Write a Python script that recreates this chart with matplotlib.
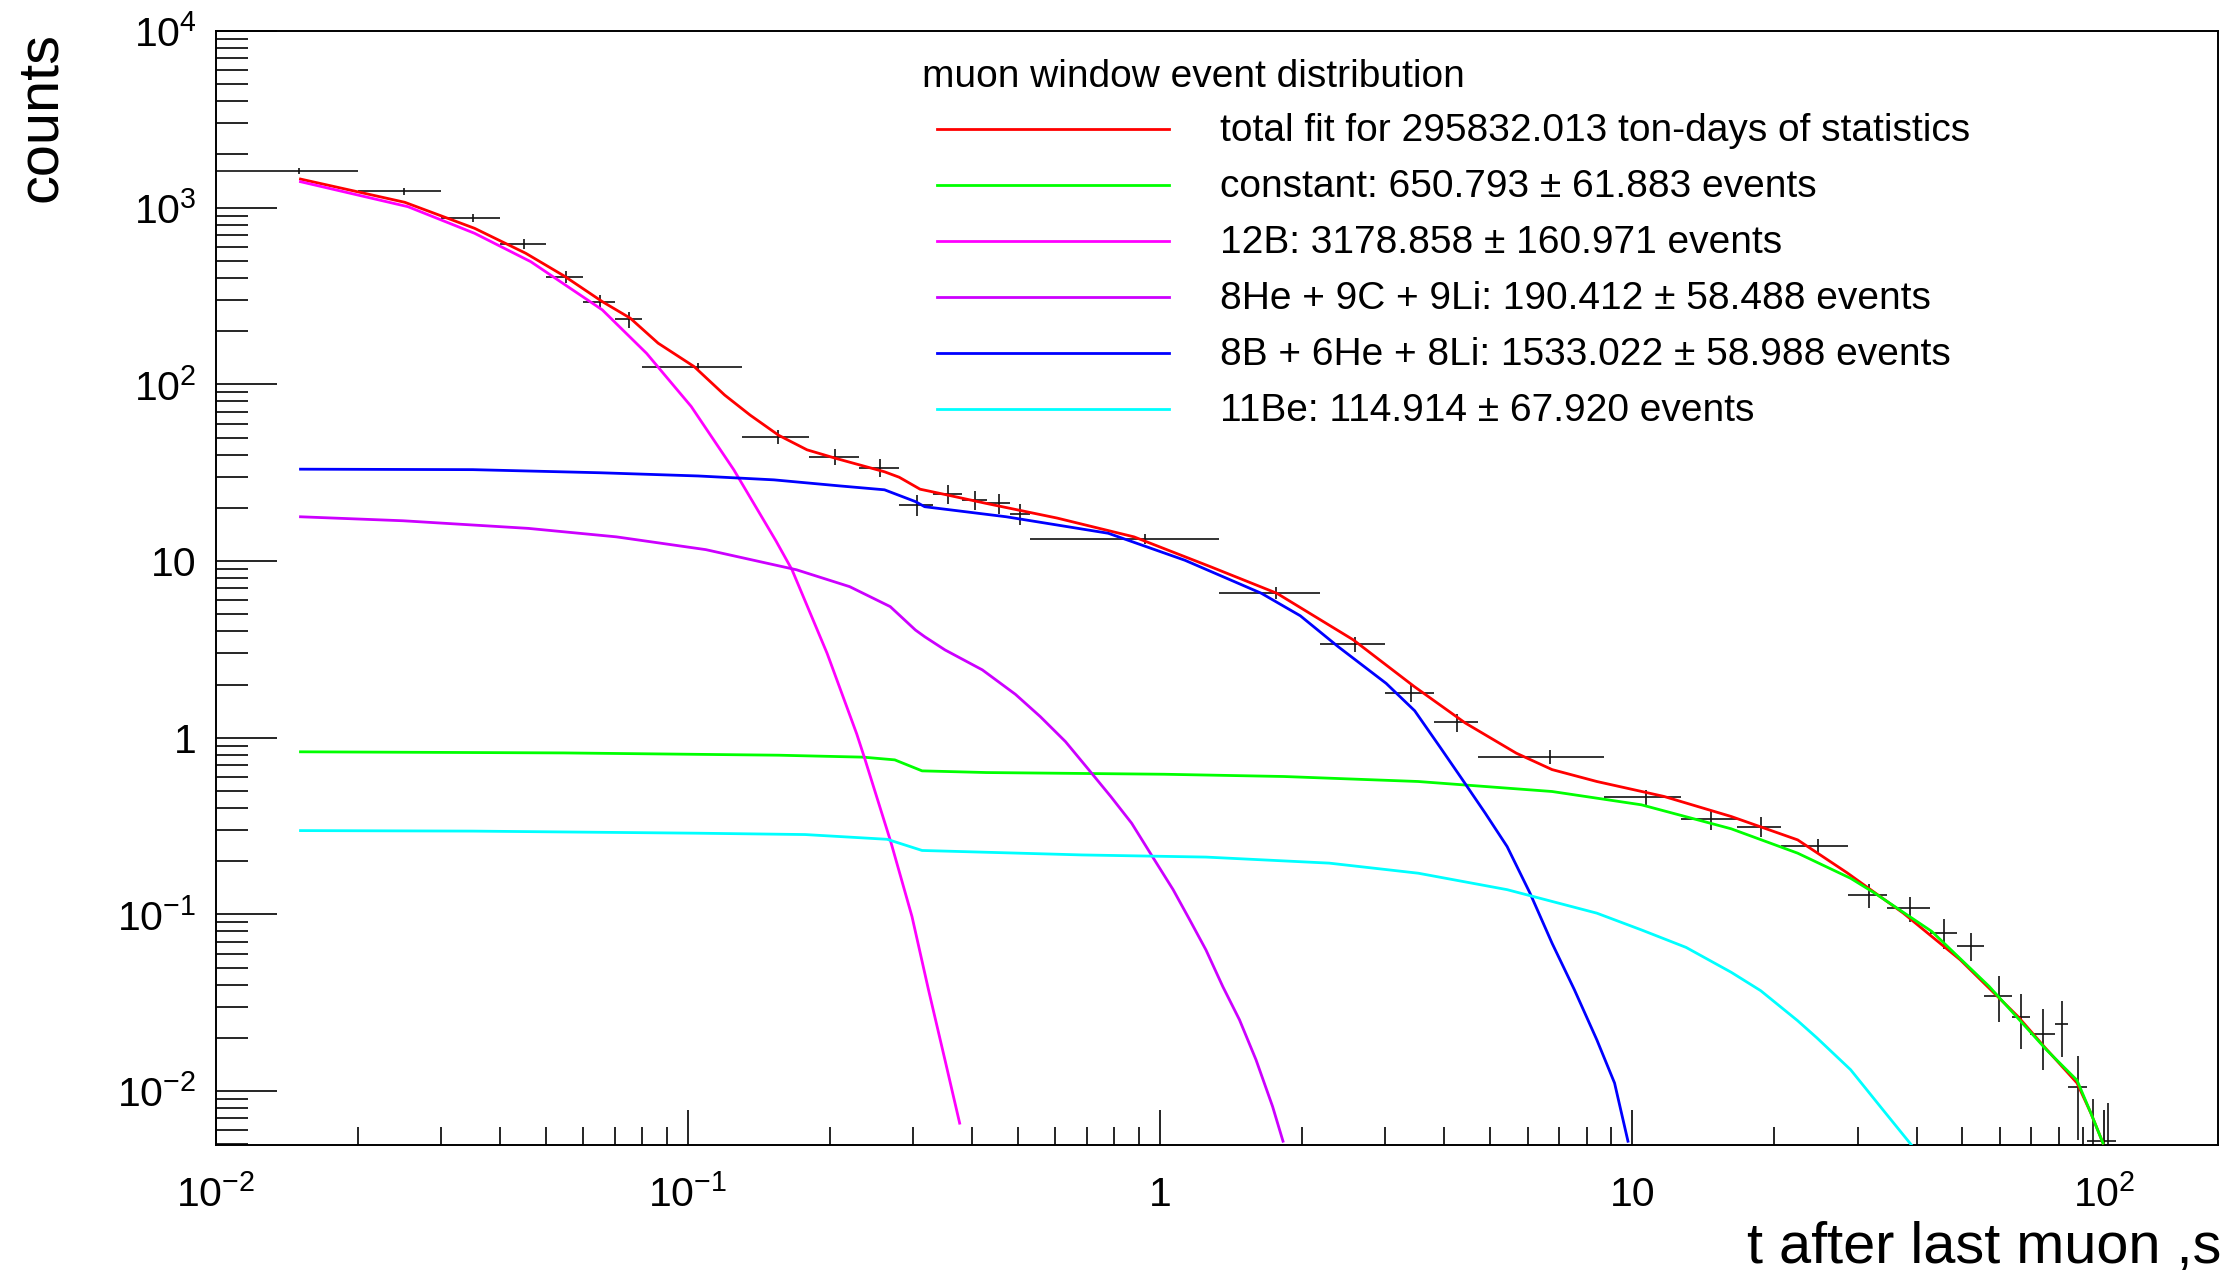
import numpy as np
import matplotlib.pyplot as plt
from matplotlib.lines import Line2D
from matplotlib.ticker import FixedLocator, FixedFormatter, LogLocator, NullFormatter

plt.rcParams['font.family'] = ['Liberation Sans', 'DejaVu Sans']
plt.rcParams['mathtext.fontset'] = 'custom'
plt.rcParams['mathtext.rm'] = 'Liberation Sans'
plt.rcParams['mathtext.it'] = 'Liberation Sans:italic'
plt.rcParams['mathtext.bf'] = 'Liberation Sans:bold'

# histogram: variable-width bins in time after the last muon (s)
bin_edges = [0.01, 0.02, 0.03, 0.04, 0.05, 0.06, 0.07, 0.08, 0.13, 0.18, 0.23,
             0.28, 0.33, 0.38, 0.43, 0.48, 0.53, 1.33, 2.18, 3.0, 3.8, 4.7,
             8.7, 12.7, 16.7, 20.7, 28.7, 34.7, 42.7, 48.7, 55.7, 63.7, 69.7,
             78.7, 83.7, 91.7, 97.7, 105.7]
counts = [1615, 1242, 875, 626, 405, 294, 233, 126, 50.6, 38.8, 33.8, 20.8,
          24.0, 22.2, 21.3, 18.4, 13.3, 6.62, 3.38, 1.79, 1.22, 0.781, 0.460,
          0.346, 0.314, 0.244, 0.129, 0.108, 0.0788, 0.0664, 0.0346, 0.0264,
          0.0211, 0.0240, 0.0105, 0.0052, 0.0052]
count_err = [63, 57, 42, 43, 31, 26, 25, 6.1, 4.6, 4.0, 3.9, 2.85, 3.0, 2.7,
             2.8, 2.5, 0.87, 0.50, 0.33, 0.19, 0.146, 0.071, 0.048, 0.046,
             0.041, 0.0245, 0.020, 0.0176, 0.0155, 0.0121, 0.0099, 0.0090,
             0.0079, 0.0085, 0.0052, 0.0038, 0.0034]

# fit curves
total_t = [0.0151, 0.0251, 0.0353, 0.0453, 0.0546, 0.0658, 0.0754, 0.0864,
           0.103, 0.1195, 0.1353, 0.1555, 0.1786, 0.2063, 0.2606, 0.28, 0.31,
           0.34, 0.4276, 0.605, 0.88, 1.276, 1.766, 2.564, 3.45, 4.43, 5.68,
           6.76, 8.41, 11.67, 16.2, 22.4, 28.5, 37.5, 49.5, 65.6, 75.0, 87.5,
           93.6, 99.3]
total_y = [1452, 1073, 764, 552, 411, 294, 237, 171, 126, 87, 67, 51.5, 42.6,
           38.0, 32.0, 29.8, 25.5, 24.2, 21.2, 17.5, 13.7, 9.3, 6.57, 3.58,
           1.95, 1.21, 0.817, 0.66, 0.565, 0.465, 0.358, 0.264, 0.172, 0.1016,
           0.0553, 0.0264, 0.0175, 0.0111, 0.0075, 0.00507]

const_t = [0.0151, 0.0546, 0.1555, 0.235, 0.274, 0.313, 0.4285, 1.02, 1.83,
           3.52, 6.76, 10.45, 16.2, 22.4, 29.0, 32.6, 43.1, 57.0, 75.4, 87.5,
           93.6, 99.3]
const_y = [0.832, 0.82, 0.796, 0.776, 0.749, 0.649, 0.635, 0.621, 0.603,
           0.565, 0.496, 0.417, 0.305, 0.222, 0.160, 0.132, 0.080, 0.0391,
           0.0171, 0.0115, 0.0075, 0.00507]

b12_t = [0.0151, 0.0255, 0.0353, 0.0464, 0.0658, 0.0817, 0.0886, 0.1015,
         0.125, 0.1535, 0.166, 0.197, 0.2018, 0.2276, 0.236, 0.269, 0.298,
         0.323, 0.35, 0.376]
b12_y = [1403, 1013, 716, 495, 264, 149.6, 115.5, 75, 32.8, 13.0, 8.92, 3.0,
         2.52, 1.05, 0.78, 0.255, 0.0972, 0.0374, 0.0150, 0.00658]

li9_t = [0.0151, 0.0249, 0.0459, 0.0705, 0.109, 0.1697, 0.2199, 0.268, 0.303,
         0.317, 0.35, 0.420, 0.4935, 0.557, 0.630, 0.711, 0.786, 0.870, 0.962,
         1.065, 1.155, 1.25, 1.357, 1.472, 1.596, 1.730, 1.82]
li9_y = [17.8, 16.9, 15.3, 13.7, 11.6, 8.92, 7.16, 5.52, 4.07, 3.73, 3.14,
         2.42, 1.76, 1.317, 0.95, 0.643, 0.464, 0.328, 0.213, 0.138, 0.093,
         0.0629, 0.039, 0.0253, 0.0150, 0.00817, 0.0052]

b8_t = [0.0151, 0.035, 0.0649, 0.105, 0.152, 0.21, 0.2606, 0.303, 0.317,
        0.472, 0.776, 1.128, 1.637, 1.98, 2.38, 3.01, 3.46, 3.92, 4.37, 4.88,
        5.43, 6.07, 6.76, 7.54, 8.41, 9.17, 9.79]
b8_y = [33.1, 32.9, 31.6, 30.3, 28.8, 26.6, 25.3, 21.7, 20.3, 17.8, 14.36,
        10.1, 6.57, 4.9, 3.28, 2.03, 1.42, 0.88, 0.577, 0.374, 0.242, 0.132,
        0.0687, 0.0374, 0.0195, 0.0111, 0.0052]

be11_t = [0.0151, 0.035, 0.105, 0.177, 0.264, 0.313, 0.682, 1.25, 2.28, 3.52,
          5.43, 8.41, 10.45, 13.0, 16.2, 18.7, 22.4, 24.6, 29.0, 33.96, 38.99]
be11_y = [0.298, 0.296, 0.288, 0.283, 0.266, 0.230, 0.217, 0.211, 0.195, 0.171,
          0.138, 0.1016, 0.0817, 0.065, 0.047, 0.037, 0.0250, 0.0200, 0.0132,
          0.00782, 0.00496]

leg_header = "muon window event distribution"
leg_labels = ["total fit for 295832.013 ton-days of statistics",
              "constant: 650.793 \u00b1 61.883 events",
              "12B: 3178.858 \u00b1 160.971 events",
              "8He + 9C + 9Li: 190.412 \u00b1 58.488 events",
              "8B + 6He + 8Li: 1533.022 \u00b1 58.988 events",
              "11Be: 114.914 \u00b1 67.920 events"]
colors = ['#ff0000', '#00ff00', '#ff00ff', '#cc00ff', '#0000ff', '#00ffff']

W, H = 2233, 1270


def fxy(px, py):
    # pixel position -> figure fraction
    return px / W, 1 - py / H


fig = plt.figure(figsize=(W / 100, H / 100), dpi=100)
ax = fig.add_axes([216 / W, 1 - 1145 / H, (2218 - 216) / W, (1145 - 31) / H])

edges = np.array(bin_edges)
centers = (edges[:-1] + edges[1:]) / 2
xerr = [centers - edges[:-1], edges[1:] - centers]
ax.errorbar(centers, counts, xerr=xerr, yerr=count_err, fmt='none',
            ecolor='#111111', elinewidth=1.2, capsize=0, zorder=2)

curves = [(total_t, total_y), (const_t, const_y), (b12_t, b12_y),
          (li9_t, li9_y), (b8_t, b8_y), (be11_t, be11_y)]
for (t, y), c in zip(curves, colors):
    ax.plot(t, y, color=c, lw=2.0, zorder=3)

ax.set_xscale('log')
ax.set_yscale('log')
ax.set_xlim(0.01, 174)
ax.set_ylim(0.00495, 1e4)

ax.xaxis.set_major_locator(FixedLocator([1e-2, 1e-1, 1, 10, 100]))
ax.xaxis.set_major_formatter(FixedFormatter(
    ['$10^{-2}$', '$10^{-1}$', '1', '10', '$10^{2}$']))
ax.xaxis.set_minor_locator(LogLocator(base=10, subs=np.arange(2, 10), numticks=30))
ax.xaxis.set_minor_formatter(NullFormatter())
ax.yaxis.set_major_locator(FixedLocator([1e-2, 1e-1, 1, 10, 100, 1e3, 1e4]))
ax.yaxis.set_major_formatter(FixedFormatter(
    ['$10^{-2}$', '$10^{-1}$', '1', '10', '$10^{2}$', '$10^{3}$', '$10^{4}$']))
ax.yaxis.set_minor_locator(LogLocator(base=10, subs=np.arange(2, 10), numticks=30))
ax.yaxis.set_minor_formatter(NullFormatter())

ax.tick_params(which='both', direction='in', top=False, right=False,
               color='black', width=1.2)
ax.tick_params(axis='y', which='major', length=44, pad=14, labelsize=29.5)
ax.tick_params(axis='y', which='minor', length=23)
ax.tick_params(axis='x', which='major', length=25, pad=44, labelsize=29.5)
ax.tick_params(axis='x', which='minor', length=13)
for lab in ax.get_xticklabels():
    lab.set_va('baseline')
for sp in ax.spines.values():
    sp.set_linewidth(1.4)

# axis titles
x, y = fxy(56, 32)
fig.text(x, y, 'counts', fontsize=41.5, rotation=90, rotation_mode='anchor',
         ha='right', va='baseline')
x, y = fxy(2221, 1262)
fig.text(x, y, 't after last muon ,s', fontsize=41.5, ha='right', va='baseline')

# legend (no border)
x, y = fxy(922, 87)
fig.text(x, y, leg_header, fontsize=28, ha='left', va='baseline')
for i, (lab, c) in enumerate(zip(leg_labels, colors)):
    ly = 129 + 56 * i
    x0, y0 = fxy(937, ly)
    x1, _ = fxy(1169, ly)
    fig.add_artist(Line2D([x0, x1], [y0, y0], color=c, lw=2.0,
                          transform=fig.transFigure))
    tx, ty = fxy(1220, ly + 12)
    fig.text(tx, ty, lab, fontsize=28, ha='left', va='baseline')

fig.savefig('out.png', dpi=100, facecolor='white')
